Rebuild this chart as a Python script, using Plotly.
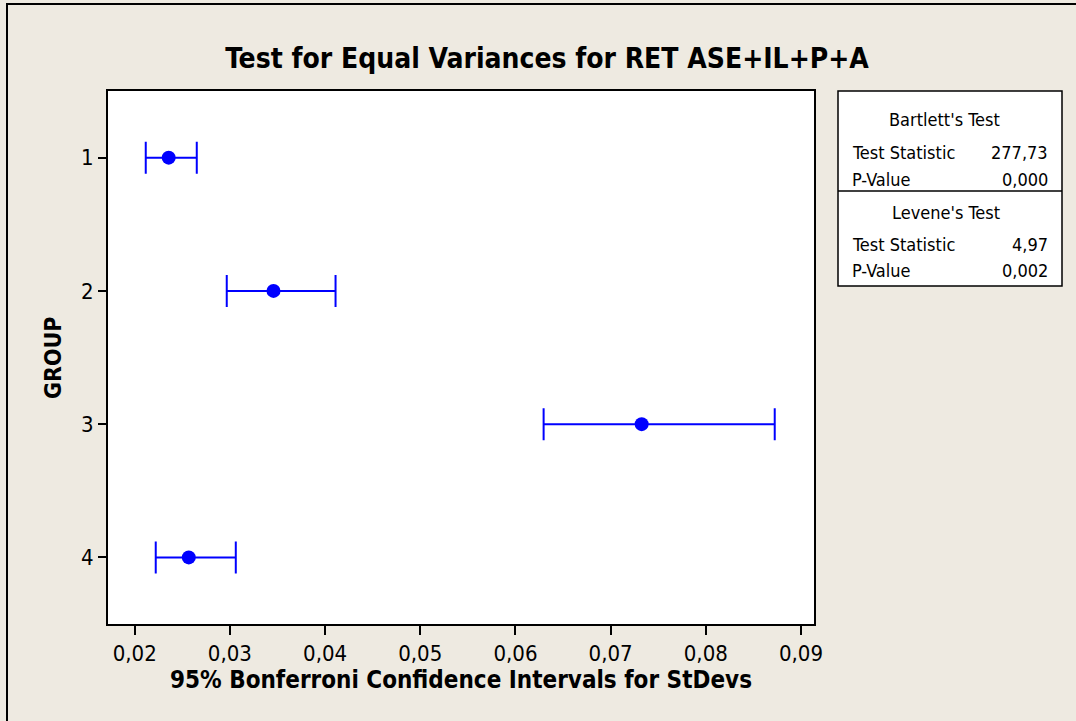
import plotly.graph_objects as go

# ---- data ----
groups = [1, 2, 3, 4]
stdev_center = [0.02357, 0.03458, 0.07326, 0.02568]
ci_lower = [0.02116, 0.02967, 0.06296, 0.02221]
ci_upper = [0.02652, 0.04110, 0.08724, 0.03062]
x_ticks = [0.02, 0.03, 0.04, 0.05, 0.06, 0.07, 0.08, 0.09]

bartlett_labels = ["Test Statistic", "P-Value"]
bartlett_values = ["277,73", "0,000"]
levene_labels = ["Test Statistic", "P-Value"]
levene_values = ["4,97", "0,002"]

W, H = 1076, 721
L, R, T, B = 108, 262, 91, 97
FONT = "DejaVu Sans Condensed, Tahoma, DejaVu Sans, sans-serif"
BG = "#EEEAE1"

def px(x):
    return (x - L) / (W - L - R)

def py(y):
    return 1 - (y - T) / (H - T - B)

fig = go.Figure()
fig.add_trace(go.Scatter(
    x=stdev_center, y=groups, mode="markers",
    marker=dict(color="#0000FF", size=14, symbol="circle"),
    error_x=dict(type="data", symmetric=False,
                 array=[u - c for u, c in zip(ci_upper, stdev_center)],
                 arrayminus=[c - l for c, l in zip(stdev_center, ci_lower)],
                 color="#0000FF", thickness=2, width=16),
    showlegend=False, hoverinfo="x+y",
))

shapes = [
    # outer frame (left and top edges)
    dict(type="line", xref="paper", yref="paper", x0=px(7), x1=px(7), y0=py(4), y1=py(730),
         line=dict(color="black", width=2)),
    dict(type="line", xref="paper", yref="paper", x0=px(6), x1=px(1080), y0=py(4), y1=py(4),
         line=dict(color="black", width=2)),
    # stats box
    dict(type="rect", xref="paper", yref="paper", x0=px(838), x1=px(1062), y0=py(91), y1=py(286),
         line=dict(color="black", width=1.5), fillcolor="white", layer="below"),
    dict(type="line", xref="paper", yref="paper", x0=px(838), x1=px(1062), y0=py(191), y1=py(191),
         line=dict(color="black", width=1.5)),
]

annotations = []
def txt(text, x, y, anchor, size=18):
    annotations.append(dict(text=text, x=px(x), y=py(y), xref="paper", yref="paper",
                            xanchor=anchor, yanchor="middle", showarrow=False,
                            font=dict(family=FONT, size=size, color="black")))

txt("Bartlett's Test", 944, 120, "center")
for i, (lab, val) in enumerate(zip(bartlett_labels, bartlett_values)):
    txt(lab, 850, 153 + 26 * i, "left")
    txt(val, 1050, 153 + 26 * i, "right")
txt("Levene's Test", 946, 212, "center")
for i, (lab, val) in enumerate(zip(levene_labels, levene_values)):
    txt(lab, 850, 244 + 26 * i, "left")
    txt(val, 1050, 244 + 26 * i, "right")

fig.add_annotation(text="<b>GROUP</b>", x=px(53), y=py(358), xref="paper", yref="paper",
                   xanchor="center", yanchor="middle", textangle=-90, showarrow=False,
                   font=dict(family=FONT, size=23, color="black"))

fig.update_layout(
    width=W, height=H,
    margin=dict(l=L, r=R, t=T, b=B),
    paper_bgcolor=BG, plot_bgcolor="white",
    separators=",.",
    font=dict(family=FONT, color="black"),
    title=dict(text="<b>Test for Equal Variances for RET ASE+IL+P+A</b>",
               x=547 / W, xanchor="center", y=1 - 58 / H, yanchor="middle",
               font=dict(family=FONT, size=28, color="black")),
    xaxis=dict(range=[0.017194, 0.091366], tickvals=x_ticks, tickformat=".2f",
               ticks="outside", ticklen=9, tickwidth=2, tickcolor="black",
               showline=True, linecolor="black", linewidth=2, mirror=True,
               showgrid=False, zeroline=False,
               tickfont=dict(family=FONT, size=22),
               title=dict(text="<b>95% Bonferroni Confidence Intervals for StDevs</b>",
                          font=dict(family=FONT, size=24), standoff=6)),
    yaxis=dict(range=[4.5, 0.5], tickvals=groups,
               ticks="outside", ticklen=8, tickwidth=2, tickcolor="black",
               showline=True, linecolor="black", linewidth=2, mirror=True,
               showgrid=False, zeroline=False,
               tickfont=dict(family=FONT, size=22)),
    shapes=shapes,
)
for a in annotations:
    fig.add_annotation(**a)

fig.write_html("out.html")
